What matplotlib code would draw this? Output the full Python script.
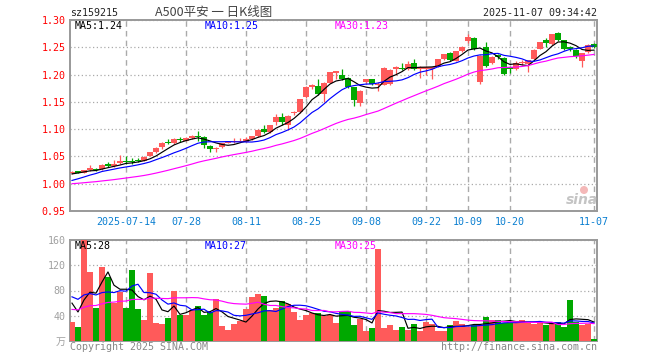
import numpy as np
import pandas as pd
import matplotlib
matplotlib.use('Agg')
import matplotlib.pyplot as plt
from matplotlib.patches import Ellipse

plt.rcParams['font.family'] = ['DejaVu Sans Mono', 'Noto Sans CJK SC']

# trading days 2025-07-01 .. 2025-11-07 (national day holiday removed)
holidays = ['2025-10-01', '2025-10-02', '2025-10-03', '2025-10-06', '2025-10-07', '2025-10-08']
tick_dates = ['2025-07-14', '2025-07-28', '2025-08-11', '2025-08-25', '2025-09-08',
              '2025-09-22', '2025-10-09', '2025-10-20', '2025-11-07']

# OHLC
open_ = [1.020, 1.023, 1.020, 1.025, 1.027, 1.027, 1.036, 1.032, 1.038, 1.041,
         1.042, 1.043, 1.042, 1.051, 1.059, 1.068, 1.076, 1.074, 1.081, 1.079,
         1.083, 1.088, 1.086, 1.069, 1.063, 1.067, 1.075, 1.076, 1.077, 1.077,
         1.082, 1.087, 1.100, 1.094, 1.113, 1.122, 1.108, 1.129, 1.131, 1.158,
         1.178, 1.179, 1.165, 1.185, 1.202, 1.200, 1.193, 1.177, 1.147, 1.186,
         1.191, 1.180, 1.181, 1.182, 1.210, 1.212, 1.211, 1.222, 1.211, 1.210,
         1.211, 1.214, 1.228, 1.240, 1.225, 1.243, 1.261, 1.267, 1.186, 1.250,
         1.222, 1.236, 1.231, 1.214, 1.210, 1.221, 1.220, 1.228, 1.247, 1.263,
         1.256, 1.277, 1.263, 1.250, 1.245, 1.224, 1.241, 1.256]
close = [1.022, 1.020, 1.025, 1.029, 1.025, 1.035, 1.033, 1.037, 1.041, 1.040,
         1.040, 1.041, 1.049, 1.058, 1.066, 1.074, 1.075, 1.082, 1.080, 1.084,
         1.088, 1.086, 1.071, 1.063, 1.066, 1.074, 1.078, 1.078, 1.079, 1.082,
         1.087, 1.099, 1.094, 1.107, 1.122, 1.113, 1.125, 1.131, 1.155, 1.178,
         1.181, 1.165, 1.185, 1.204, 1.206, 1.192, 1.178, 1.154, 1.170, 1.191,
         1.183, 1.182, 1.212, 1.209, 1.213, 1.211, 1.219, 1.211, 1.213, 1.214,
         1.213, 1.228, 1.237, 1.226, 1.243, 1.250, 1.269, 1.247, 1.234, 1.216,
         1.233, 1.233, 1.201, 1.210, 1.222, 1.223, 1.226, 1.245, 1.259, 1.257,
         1.274, 1.263, 1.247, 1.247, 1.234, 1.239, 1.254, 1.250]
high = [1.024, 1.024, 1.026, 1.035, 1.028, 1.036, 1.039, 1.043, 1.052, 1.050,
        1.048, 1.048, 1.050, 1.059, 1.067, 1.076, 1.082, 1.083, 1.086, 1.085,
        1.089, 1.096, 1.087, 1.071, 1.067, 1.075, 1.079, 1.083, 1.083, 1.086,
        1.088, 1.100, 1.108, 1.108, 1.127, 1.129, 1.126, 1.134, 1.156, 1.179,
        1.183, 1.191, 1.186, 1.205, 1.207, 1.210, 1.195, 1.178, 1.172, 1.192,
        1.192, 1.186, 1.213, 1.211, 1.216, 1.222, 1.224, 1.229, 1.215, 1.216,
        1.214, 1.229, 1.238, 1.241, 1.244, 1.252, 1.274, 1.268, 1.236, 1.259,
        1.234, 1.238, 1.232, 1.215, 1.224, 1.226, 1.227, 1.246, 1.260, 1.267,
        1.275, 1.278, 1.264, 1.252, 1.246, 1.240, 1.256, 1.257]
low = [1.017, 1.019, 1.019, 1.024, 1.023, 1.026, 1.031, 1.031, 1.036, 1.036,
       1.037, 1.039, 1.041, 1.050, 1.057, 1.063, 1.072, 1.073, 1.077, 1.078,
       1.082, 1.078, 1.066, 1.058, 1.059, 1.066, 1.074, 1.075, 1.076, 1.076,
       1.081, 1.086, 1.093, 1.093, 1.107, 1.107, 1.099, 1.126, 1.130, 1.157,
       1.173, 1.163, 1.150, 1.184, 1.192, 1.190, 1.176, 1.142, 1.143, 1.185,
       1.181, 1.170, 1.180, 1.180, 1.200, 1.208, 1.209, 1.209, 1.193, 1.200,
       1.191, 1.213, 1.227, 1.224, 1.224, 1.242, 1.258, 1.245, 1.183, 1.214,
       1.220, 1.228, 1.199, 1.202, 1.208, 1.218, 1.205, 1.227, 1.246, 1.250,
       1.255, 1.262, 1.245, 1.244, 1.230, 1.214, 1.240, 1.248]
# volume (万)
volume = [30, 22, 165, 110, 52, 118, 102, 60, 78, 52,
          112, 50, 34, 107, 28, 27, 36, 79, 41, 41,
          49, 55, 41, 46, 66, 23, 18, 27, 32, 50,
          70, 74, 71, 49, 53, 63, 58, 46, 33, 41,
          44, 44, 40, 41, 28, 47, 47, 25, 35, 16,
          20, 145, 20, 25, 17, 22, 17, 27, 16, 30,
          27, 16, 16, 25, 32, 27, 22, 25, 25, 38,
          33, 33, 28, 30, 30, 33, 28, 27, 30, 25,
          28, 30, 22, 65, 30, 25, 27, 3]

# earlier sessions, estimated from where the MA lines start
prev_close = [0.995, 0.996, 0.998, 0.997, 0.996, 0.998, 0.999, 0.997, 0.996, 0.995,
              0.997, 0.998, 0.997, 0.996, 0.998, 0.997, 0.996, 0.998, 0.999, 0.997,
              0.990, 0.992, 0.994, 0.996, 0.998, 1.012, 1.015, 1.019, 1.022]
prev_volume = [38, 45, 36, 42, 40, 35, 44, 39, 41, 37, 43, 40, 38, 42, 36, 44, 41, 39, 40, 40,
               62, 95, 88, 75, 80, 92, 70, 48, 60]

RED = '#ff5a5a'
GREEN = '#00a800'
GRID = '#aaaaaa'
SPINE = '#999999'

dates = pd.bdate_range('2025-07-01', '2025-11-07')
dates = dates[~dates.isin(pd.to_datetime(holidays))]
x = np.arange(len(dates))
tick_idx = [dates.get_loc(pd.Timestamp(d)) for d in tick_dates]
tick_lbl = [pd.Timestamp(d).strftime('%Y-%m-%d' if i == 0 else '%m-%d') for i, d in enumerate(tick_dates)]

o = np.array(open_)
c = np.array(close)
h = np.array(high)
l = np.array(low)
v = np.array(volume)
up = c >= o
colors = np.where(up, RED, GREEN)


def ma(prev, vals, n):
    s = pd.Series(list(prev) + list(vals)).rolling(n).mean()
    return s.to_numpy()[len(prev):]


fig = plt.figure(figsize=(6.6, 3.6), dpi=100)
W, H = 660, 360
ax = fig.add_axes([70 / W, 1 - 211 / H, 527 / W, 191 / H])
axv = fig.add_axes([70 / W, 1 - 341 / H, 527 / W, 101 / H])

# candles
ax.vlines(x, l, h, colors=colors, linewidth=0.9, zorder=3)
body = np.maximum(np.abs(c - o), 0.0012)
ax.bar(x, body, bottom=np.minimum(o, c), width=0.84, color=colors, linewidth=0, zorder=4)

ax.plot(x, ma(prev_close, c, 5), color='black', lw=0.85, zorder=5)
ax.plot(x, ma(prev_close, c, 10), color='#0000ff', lw=0.85, zorder=5)
ax.plot(x, ma(prev_close, c, 30), color='#ff00ff', lw=0.85, zorder=5)

ax.set_xlim(-0.33, 87.5)
ax.set_ylim(0.95, 1.30)
yt = [0.95, 1.00, 1.05, 1.10, 1.15, 1.20, 1.25, 1.30]
ax.set_yticks(yt)
ax.set_yticklabels(['%.2f' % t for t in yt])
ax.tick_params(axis='y', colors='red', labelsize=7.2, length=0, pad=3)
ax.set_xticks(tick_idx)
ax.set_xticklabels(tick_lbl)
ax.tick_params(axis='x', colors='#0a7fd1', labelsize=7.2, length=0, pad=4)
ax.grid(axis='y', linestyle=(0, (1, 2)), color=GRID, lw=0.9)
ax.grid(axis='x', linestyle=(0, (4, 3)), color=GRID, lw=1)

# volume
axv.bar(x, v, width=0.84, color=colors, linewidth=0, zorder=3)
axv.plot(x, ma(prev_volume, v, 5), color='black', lw=0.85, zorder=5)
axv.plot(x, ma(prev_volume, v, 10), color='#0000ff', lw=0.85, zorder=5)
axv.plot(x, ma(prev_volume, v, 30), color='#ff00ff', lw=0.85, zorder=5)
axv.set_xlim(-0.33, 87.5)
axv.set_ylim(0, 160)
axv.set_yticks([0, 40, 80, 120, 160])
axv.set_yticklabels(['万', '40', '80', '120', '160'])
axv.tick_params(axis='y', colors='#a0a0a0', labelsize=7.2, length=0, pad=3)
axv.set_xticks(tick_idx)
axv.set_xticklabels([])
axv.tick_params(axis='x', length=0)
axv.grid(axis='y', linestyle=(0, (1, 2)), color=GRID, lw=0.9)
axv.grid(axis='x', linestyle=(0, (4, 3)), color=GRID, lw=1)

for a in (ax, axv):
    a.set_axisbelow(True)
    for s in a.spines.values():
        s.set_color(SPINE)
        s.set_linewidth(1.4)


def txt(px, py, s, **kw):
    fig.text(px / W, 1 - py / H, s, **kw)


txt(70, 12.5, 'sz159215', fontsize=7.2, color='#222222', va='center', ha='left')
txt(214, 12.5, 'A500平安 一 日K线图', fontsize=9, color='#444444', va='center', ha='center',
    family=['Noto Sans CJK SC', 'DejaVu Sans'])
txt(597, 12.5, '2025-11-07 09:34:42', fontsize=7.2, color='#222222', va='center', ha='right')

txt(75, 26, 'MA5:1.24', fontsize=7.2, color='black', va='center')
txt(205, 26, 'MA10:1.25', fontsize=7.2, color='#0000ff', va='center')
txt(335, 26, 'MA30:1.23', fontsize=7.2, color='#ff00ff', va='center')

txt(75, 246, 'MA5:28', fontsize=7.2, color='black', va='center')
txt(205, 246, 'MA10:27', fontsize=7.2, color='#0000ff', va='center')
txt(335, 246, 'MA30:25', fontsize=7.2, color='#ff00ff', va='center')

txt(70, 347, 'Copyright 2025 SINA.COM', fontsize=7.2, color='#888888', va='center', ha='left')
txt(597, 347, 'http://finance.sina.com.cn', fontsize=7.2, color='#888888', va='center', ha='right')

# sina watermark (pink eye + grey word)
fig.patches.append(Ellipse((584 / W, 1 - 190 / H), 8 / W, 8 / H, transform=fig.transFigure,
                           facecolor='#f4b8b8', edgecolor='none', zorder=1))
txt(582, 200, 'sina', fontsize=10, color='#c4c4c4', va='center', ha='center',
    style='italic', weight='bold', family='DejaVu Sans')

fig.savefig('out.png', dpi=100)
